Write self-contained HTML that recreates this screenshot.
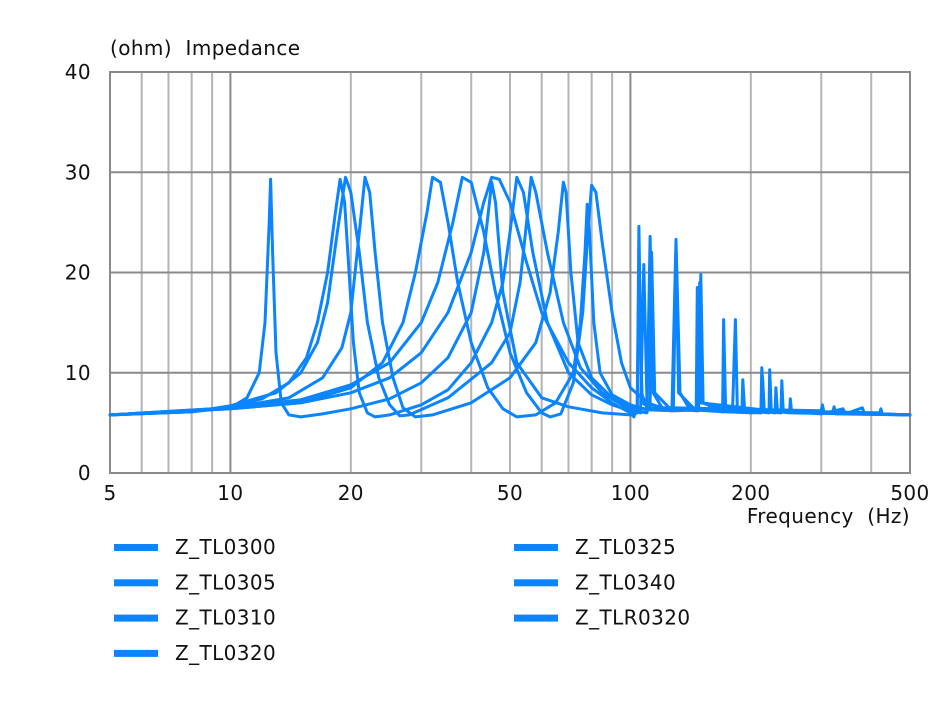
<!DOCTYPE html>
<html><head><meta charset="utf-8"><style>
body{margin:0;background:#fff;}
svg text{font-family:"DejaVu Sans","Liberation Sans",sans-serif;font-size:20px;letter-spacing:0.4px;fill:#111;}
</style></head><body>
<svg id="chart" width="943" height="700" viewBox="0 0 943 700" xmlns="http://www.w3.org/2000/svg">
<g id="grid"></g>
<g id="series"></g>
<g id="axes"></g>
<g id="legend"></g>
</svg>
<script>
const seriesNames=["Z_TL0300","Z_TL0305","Z_TL0310","Z_TL0320","Z_TL0325","Z_TL0340","Z_TLR0320"];
const yTicks=[0,10,20,30,40];
const xTickLabels=[5,10,20,50,100,200,500];
const xGridMinor=[6,7,8,9,20,30,40,50,60,70,80,90,200,300,400];
const xGridMajor=[10,100];
const s1=[[5,5.8],[8,6.1],[10,6.5],[11,7.5],[11.8,10],[12.2,15],[12.5,25],[12.6,29.3],[12.75,22],[13,12],[13.4,7],[14,5.8],[15,5.6],[17,5.9],[20,6.4],[25,7.4],[30,9],[35,11.5],[40,16],[43,22],[45,29],[46,27],[48,18],[52,11],[60,7.5],[70,6.6],[85,6],[100,5.8],[104,6],[105,24.6],[106.5,8],[110,6.5],[130,6.2],[148,6.3],[150,19.8],[152,7],[170,6.1],[212,6],[213,10.5],[216,6.3],[300,5.9],[340,6.4],[345,5.9],[380,6.5],[385,5.9],[500,5.8]];
const s2=[[5,5.8],[8,6.1],[10,6.6],[12,7.4],[14,9],[15.5,11.5],[16.5,15],[17.5,20],[18.3,26],[18.8,29.3],[19.3,27],[19.8,20],[20.3,13],[21,8],[22,6],[23,5.6],[25,5.8],[30,6.8],[35,8.3],[40,11],[45,15],[48,19],[50,24],[52,29.5],[54,28],[57,22],[62,15],[70,10],[80,7.8],[90,6.8],[100,6.2],[106,6],[108,20.8],[110,7],[120,6.4],[148,6.2],[149,19],[151,7],[180,6.1],[183,15.3],[185,6.5],[230,6],[231,8.5],[233,6.2],[320,6],[323,6.6],[326,5.9],[500,5.8]];
const s3=[[5,5.8],[8,6.1],[10,6.7],[13,8],[15,10],[16.5,13],[17.5,17],[18.5,24],[19.4,29.5],[20,28],[21,22],[22,15],[23.5,9.5],[25,6.8],[26.5,5.7],[28,5.8],[35,7.5],[45,11],[50,14],[53,19],[55,25],[56.5,29.5],[58,28],[62,22],[68,15],[75,10.5],[85,8],[100,6.3],[110,6],[112,23.6],[114,8],[120,6.5],[170,6.1],[171,15.3],[173,6.5],[222,6],[223,10.3],[225,6.2],[420,6],[423,6.4],[426,5.9],[500,5.8]];
const s4=[[5,5.8],[10,6.5],[14,7.5],[17,9.5],[19,12.5],[20,16],[21,24],[21.7,29.5],[22.3,28],[23,22],[24,15],[25.5,9.5],[27,6.5],[29,5.6],[32,5.8],[40,7],[50,9.5],[58,13],[63,18],[66,24],[68,29],[69,28],[71,20],[74,13],[80,9.5],[90,7.5],[100,6.5],[127,6.2],[130,23.3],[133,8],[140,6.5],[190,6.1],[191,9.3],[193,6.3],[238,6],[239,9.2],[241,6.2],[500,5.8]];
const s5=[[5,5.8],[10,6.4],[15,7],[20,8.5],[24,11],[27,15],[29,20],[31,26],[32,29.5],[33.5,29],[35,25],[37,19],[40,13],[44,8.5],[48,6.4],[52,5.6],[58,5.8],[65,7],[72,10],[75,15],[77,22],[78,26.8],[79,24],[81,15],[84,10],[90,7.8],[100,6.8],[110,6.3],[128,6.2],[130,22],[132,8],[146,6.2],[147,18.5],[149,7],[250,6],[251,7.4],[253,6],[500,5.8]];
const s6=[[5,5.8],[10,6.5],[15,7.3],[20,8.8],[25,11],[30,15],[33,19],[36,25],[38,29.5],[40,29],[43,24],[46,18],[50,12],[55,8],[60,6],[63,5.6],[67,5.9],[72,9],[76,16],[78,23],[80,28.7],[82,28],[85,23],[90,16],[95,11],[100,8.5],[110,7],[120,6.5],[200,6],[212,6.1],[214,9.5],[216,6.2],[500,5.8]];
const s7=[[5,5.8],[10,6.4],[15,7],[20,8],[25,9.5],[30,12],[35,16],[40,22],[43,27],[45,29.5],[47,29.3],[50,27],[55,21],[60,16],[70,11],[80,8.5],[90,7],[100,6],[102,5.6],[104,6.5],[105,20],[107,7],[112,6.5],[113,22],[115,8],[125,6.5],[300,6.2],[302,6.8],[305,6],[500,5.8]];
const allSeries=[s1,s2,s3,s4,s5,s6,s7];

const X0=110,X1=910,Y0=473,Y1=72;
function xs(f){return X0+(X1-X0)*Math.log10(f/5)/2;}
function ys(v){return Y0-(Y0-Y1)*v/40;}
const NS="http://www.w3.org/2000/svg";
function mk(tag,attrs,parent){const e=document.createElementNS(NS,tag);for(const k in attrs)e.setAttribute(k,attrs[k]);parent.appendChild(e);return e;}
const grid=document.getElementById('grid'),axes=document.getElementById('axes'),ser=document.getElementById('series'),leg=document.getElementById('legend');
xGridMinor.forEach(f=>{const l=mk('line',{x1:xs(f),x2:xs(f),y1:Y1,y2:Y0,stroke:'#b4b4b4','stroke-width':2},grid);

});
xGridMajor.forEach(f=>{const l=mk('line',{x1:xs(f),x2:xs(f),y1:Y1,y2:Y0,stroke:'#8a8a8a','stroke-width':2},grid);

});
yTicks.forEach(v=>{const l=mk('line',{x1:X0,x2:X1,y1:ys(v),y2:ys(v),stroke:'#8a8a8a','stroke-width':2},grid);


const t=mk('text',{x:91,y:ys(v)+7,'text-anchor':'end'},axes);t.textContent=v;

});
const fr=mk('rect',{x:X0,y:Y1,width:X1-X0,height:Y0-Y1,fill:'none',stroke:'#8a8a8a','stroke-width':2},grid);


xTickLabels.forEach(f=>{const t=mk('text',{x:xs(f),y:500,'text-anchor':'middle'},axes);t.textContent=f;

});
const yt=mk('text',{x:110,y:55},axes);yt.textContent='(ohm)\u00a0\u00a0Impedance';


const xt=mk('text',{x:910,y:523,'text-anchor':'end'},axes);xt.textContent='Frequency\u00a0\u00a0(Hz)';


allSeries.forEach((s,i)=>{const p=mk('polyline',{points:s.map(d=>xs(d[0]).toFixed(1)+','+ys(d[1]).toFixed(1)).join(' '),fill:'none',stroke:'#0a84ff','stroke-width':3,'stroke-linejoin':'round','stroke-linecap':'round'},ser);

});
seriesNames.forEach((n,i)=>{const col=i<4?0:1,row=i<4?i:i-4;const lx=col?514:114,ly=547+row*35.3;
const g=mk('g',{},leg);


mk('rect',{x:lx,y:ly-3,width:44,height:7,fill:'#0a84ff'},g);
const t=mk('text',{x:lx+61,y:ly+7},g);t.textContent=n;});
</script>
</body></html>
